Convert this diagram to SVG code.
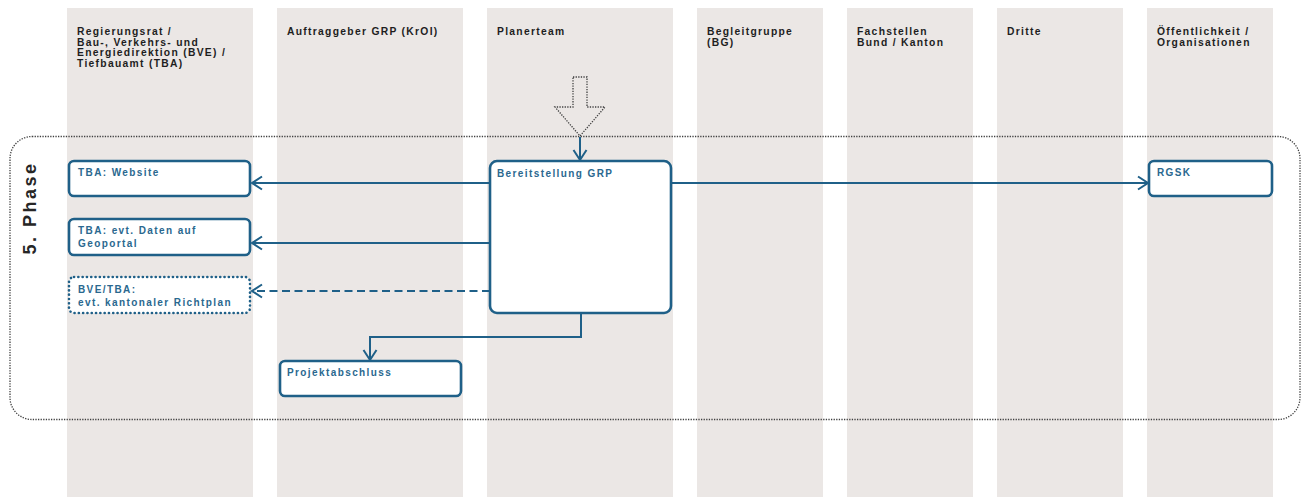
<svg xmlns="http://www.w3.org/2000/svg" width="1304" height="497" viewBox="0 0 1304 497">
  <style>
    .lane { fill: #ebe7e5; }
    .hdr { font-family: "Liberation Sans", Arial, sans-serif; font-size: 10.3px; font-weight: bold; fill: #1e1e1e; letter-spacing: 1.3px; }
    .box { fill: #ffffff; stroke: #1f6088; stroke-width: 2.6; }
    .box-dot { fill: #ffffff; stroke: #1f6088; stroke-width: 2.6; stroke-dasharray: 0.1 4.2; stroke-linecap: round; }
    .lbl { font-family: "Liberation Sans", Arial, sans-serif; font-size: 10px; font-weight: bold; fill: #2a688f; letter-spacing: 1.4px; }
    .wire { fill: none; stroke: #1f6088; stroke-width: 2; }
    .wire-dash { fill: none; stroke: #1f6088; stroke-width: 2; stroke-dasharray: 8 4.5; }
    .phase { fill: none; stroke: #404040; stroke-width: 1.3; stroke-dasharray: 1.3 1.3; }
    .phase-lbl { font-family: "Liberation Sans", Arial, sans-serif; font-size: 18px; font-weight: bold; fill: #262626; letter-spacing: 2.5px; }
  </style>
  <defs>
    <marker id="chev" viewBox="-11 -8 13 16" markerWidth="13" markerHeight="16" refX="0" refY="0" orient="auto" markerUnits="userSpaceOnUse">
      <path d="M-10,-6.5 L0,0 L-10,6.5" fill="none" stroke="#1f6088" stroke-width="2" stroke-dasharray="none"/>
    </marker>
  </defs>

  <rect width="1304" height="497" fill="#ffffff"/>

  <!-- swimlanes -->
  <g id="lanes">
    <rect class="lane" x="67" y="8" width="186" height="489"/>
    <rect class="lane" x="277" y="8" width="186" height="489"/>
    <rect class="lane" x="487" y="8" width="186" height="489"/>
    <rect class="lane" x="697" y="8" width="126" height="489"/>
    <rect class="lane" x="847" y="8" width="126" height="489"/>
    <rect class="lane" x="997" y="8" width="126" height="489"/>
    <rect class="lane" x="1147" y="8" width="126" height="489"/>
  </g>

  <g id="headers">
    <text class="hdr" x="77" y="35">Regierungsrat /</text>
    <text class="hdr" x="77" y="45.5">Bau-, Verkehrs- und</text>
    <text class="hdr" x="77" y="56">Energiedirektion (BVE) /</text>
    <text class="hdr" x="77" y="66.5">Tiefbauamt (TBA)</text>
    <text class="hdr" x="287" y="35">Auftraggeber GRP (KrOI)</text>
    <text class="hdr" x="497" y="35">Planerteam</text>
    <text class="hdr" x="707" y="35">Begleitgruppe</text>
    <text class="hdr" x="707" y="45.5">(BG)</text>
    <text class="hdr" x="857" y="35">Fachstellen</text>
    <text class="hdr" x="857" y="45.5">Bund / Kanton</text>
    <text class="hdr" x="1007" y="35">Dritte</text>
    <text class="hdr" x="1157" y="35">Öffentlichkeit /</text>
    <text class="hdr" x="1157" y="45.5">Organisationen</text>
  </g>

  <!-- phase frame -->
  <g id="phase5">
    <rect class="phase" x="10" y="136.5" width="1290" height="283" rx="22"/>
    <text class="phase-lbl" transform="translate(36,208) rotate(-90)" text-anchor="middle">5. Phase</text>
  </g>

  <!-- entry arrow -->
  <g id="entry">
    <polygon class="phase" points="573,77 587,77 587,107 605,107 580,136 555,107 573,107"/>
  </g>

  <!-- connectors -->
  <g id="connectors">
    <path class="wire" d="M580,137 L580,160" marker-end="url(#chev)"/>
    <path class="wire" d="M490,183 L252,183" marker-end="url(#chev)"/>
    <path class="wire" d="M490,243 L252,243" marker-end="url(#chev)"/>
    <path class="wire-dash" d="M490,291 L252,291" marker-end="url(#chev)"/>
    <path class="wire" d="M671,183 L1148,183" marker-end="url(#chev)"/>
    <path class="wire" d="M581,313 L581,337 L370,337 L370,360" marker-end="url(#chev)"/>
  </g>

  <!-- nodes -->
  <g id="node-website">
    <rect class="box" x="69" y="161" width="181" height="35" rx="5"/>
    <text class="lbl" x="78" y="176">TBA: Website</text>
  </g>
  <g id="node-geoportal">
    <rect class="box" x="69" y="219" width="181" height="36" rx="5"/>
    <text class="lbl" x="78" y="234">TBA: evt. Daten auf</text>
    <text class="lbl" x="78" y="247">Geoportal</text>
  </g>
  <g id="node-richtplan">
    <rect class="box-dot" x="69" y="277" width="181" height="36" rx="5"/>
    <text class="lbl" x="78" y="293">BVE/TBA:</text>
    <text class="lbl" x="78" y="306">evt. kantonaler Richtplan</text>
  </g>
  <g id="node-bereitstellung">
    <rect class="box" x="490" y="161" width="181" height="152" rx="7"/>
    <text class="lbl" x="497" y="177">Bereitstellung GRP</text>
  </g>
  <g id="node-rgsk">
    <rect class="box" x="1149" y="161" width="123" height="35" rx="5"/>
    <text class="lbl" x="1157" y="176">RGSK</text>
  </g>
  <g id="node-abschluss">
    <rect class="box" x="280" y="361" width="181" height="35" rx="5"/>
    <text class="lbl" x="287" y="376">Projektabschluss</text>
  </g>
</svg>
